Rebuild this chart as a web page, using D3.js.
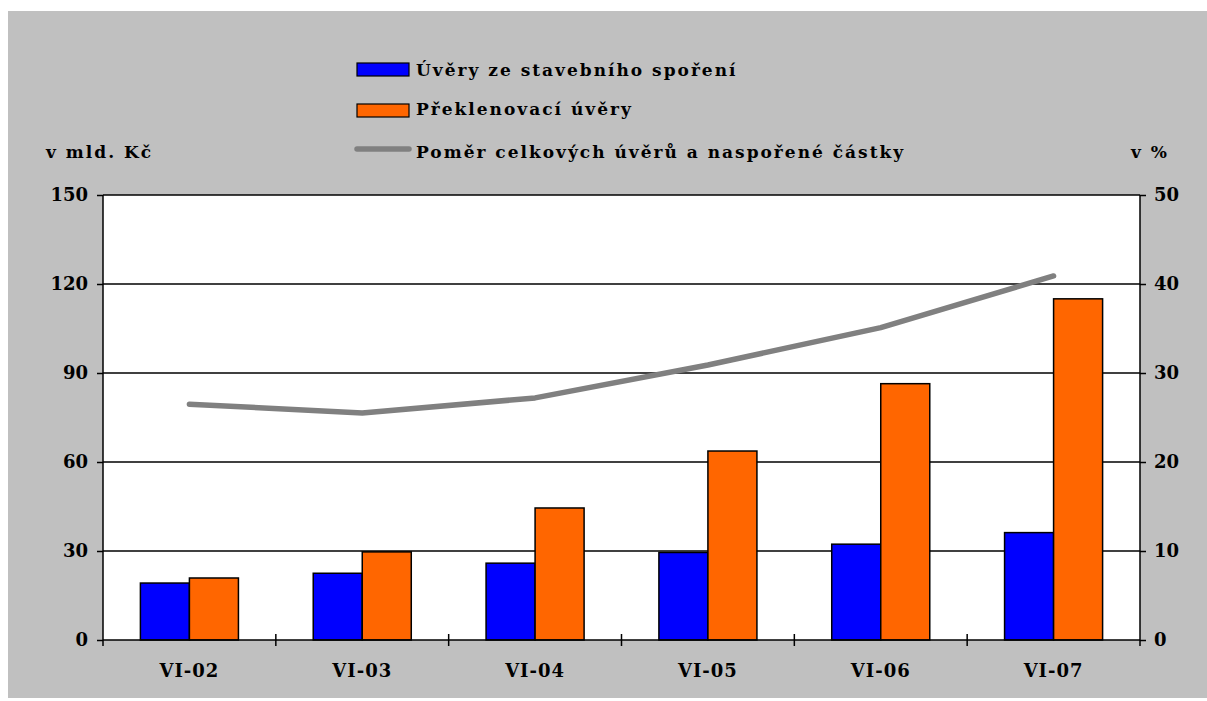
<!DOCTYPE html>
<html>
<head>
<meta charset="utf-8">
<script src="https://cdn.jsdelivr.net/npm/d3@7"></script>
<style>
  html, body { margin: 0; padding: 0; background: #ffffff; }
  svg { display: block; }
  text { font-family: "DejaVu Serif", serif; font-weight: bold; fill: #000; }
</style>
</head>
<body>
<svg id="chart" width="1207" height="701"></svg>
<script>
// Periods (June of each year)
const categories = ["VI-02", "VI-03", "VI-04", "VI-05", "VI-06", "VI-07"];
// Loans from building savings, bn CZK
const stavebniUvery = [19.2, 22.5, 25.9, 29.5, 32.3, 36.2];
// Bridging loans, bn CZK
const preklenovaciUvery = [20.9, 29.7, 44.5, 63.7, 86.4, 115.0];
// Ratio of total loans to saved amount, %
const pomerUveru = [26.5, 25.5, 27.2, 30.9, 35.1, 40.9];
// Axis ticks
const leftTicks = [0, 30, 60, 90, 120, 150];
const rightTicks = [0, 10, 20, 30, 40, 50];

const seriesNames = ["Úvěry ze stavebního spoření", "Překlenovací úvěry", "Poměr celkových úvěrů a naspořené částky"];
const colors = { blue: "#0000ff", orange: "#ff6600", line: "#808080", bg: "#c0c0c0" };

const svg = d3.select("#chart");
const plot = { left: 103, right: 1140, top: 195, bottom: 640 };

// background panel
svg.append("rect").attr("x", 8).attr("y", 11).attr("width", 1199).attr("height", 687).attr("fill", colors.bg);
svg.append("rect").attr("x", plot.left).attr("y", plot.top)
  .attr("width", plot.right - plot.left).attr("height", plot.bottom - plot.top).attr("fill", "#ffffff");

const x = d3.scaleBand().domain(categories).range([plot.left, plot.right]).padding(0);
const xi = d3.scaleBand().domain(["s", "p"]).range([0, x.bandwidth()]).paddingInner(0).paddingOuter(0.763);
const yL = d3.scaleLinear().domain([0, 150]).range([plot.bottom, plot.top]);
const yR = d3.scaleLinear().domain([0, 50]).range([plot.bottom, plot.top]);

// horizontal gridlines
svg.append("g").selectAll("line").data(leftTicks.slice(1)).join("line")
  .attr("x1", plot.left).attr("x2", plot.right)
  .attr("y1", d => yL(d)).attr("y2", d => yL(d))
  .attr("stroke", "#000").attr("stroke-width", 1.5);

// bars
const rows = categories.map((c, i) => ({ c, s: stavebniUvery[i], p: preklenovaciUvery[i] }));
const groups = svg.append("g").selectAll("g").data(rows).join("g")
  .attr("transform", d => `translate(${x(d.c)},0)`);
groups.append("rect")
  .attr("x", xi("s")).attr("width", xi.bandwidth())
  .attr("y", d => yL(d.s)).attr("height", d => yL(0) - yL(d.s))
  .attr("fill", colors.blue).attr("stroke", "#000").attr("stroke-width", 1.5);
groups.append("rect")
  .attr("x", xi("p")).attr("width", xi.bandwidth())
  .attr("y", d => yL(d.p)).attr("height", d => yL(0) - yL(d.p))
  .attr("fill", colors.orange).attr("stroke", "#000").attr("stroke-width", 1.5);

// ratio line on the right axis
const line = d3.line().x((d, i) => x(categories[i]) + x.bandwidth() / 2).y(d => yR(d));
svg.append("path").datum(pomerUveru).attr("d", line)
  .attr("fill", "none").attr("stroke", colors.line).attr("stroke-width", 5.5)
  .attr("stroke-linejoin", "round").attr("stroke-linecap", "round");

// axes
const fontSize = 18;
const leftAxis = svg.append("g").attr("transform", `translate(${plot.left},0)`)
  .call(d3.axisLeft(yL).tickValues(leftTicks).tickSize(6).tickPadding(9).tickSizeOuter(0));
const rightAxis = svg.append("g").attr("transform", `translate(${plot.right},0)`)
  .call(d3.axisRight(yR).tickValues(rightTicks).tickSize(6).tickPadding(8).tickSizeOuter(0));
[leftAxis, rightAxis].forEach(g => {
  g.select(".domain").attr("stroke", "#000").attr("stroke-width", 1.5).attr("d", `M0,${plot.top}V${plot.bottom + 6}`);
  g.selectAll(".tick line").attr("stroke", "#000").attr("stroke-width", 1.5);
  g.selectAll("text").attr("font-family", "DejaVu Serif").attr("font-weight", "bold").attr("font-size", fontSize);
});

// x axis: band-boundary ticks crossing the baseline, labels centred
const xAxis = svg.append("g").attr("transform", `translate(0,${plot.bottom})`)
  .call(d3.axisBottom(x).tickSize(0).tickPadding(37));
xAxis.select(".domain").attr("stroke", "#000").attr("stroke-width", 1.5).attr("d", `M${plot.left},0H${plot.right}`);
xAxis.selectAll("text").attr("font-family", "DejaVu Serif").attr("font-weight", "bold")
  .attr("font-size", fontSize).attr("letter-spacing", 1).attr("dy", 0);
svg.append("g").selectAll("line").data(categories.slice(1)).join("line")
  .attr("x1", d => x(d)).attr("x2", d => x(d))
  .attr("y1", plot.bottom - 6).attr("y2", plot.bottom + 6)
  .attr("stroke", "#000").attr("stroke-width", 1.5);

// axis unit labels
const headFont = 17, headSpacing = 2;
svg.append("text").attr("x", 46).attr("y", 158).attr("font-size", headFont)
  .attr("letter-spacing", headSpacing).text("v mld. Kč");
svg.append("text").attr("x", 1169).attr("y", 158).attr("font-size", headFont)
  .attr("letter-spacing", headSpacing).attr("text-anchor", "end").text("v %");

// legend
const legend = svg.append("g");
legend.append("rect").attr("x", 357).attr("y", 63).attr("width", 52).attr("height", 13)
  .attr("fill", colors.blue).attr("stroke", "#000").attr("stroke-width", 1.2);
legend.append("rect").attr("x", 357).attr("y", 104).attr("width", 52).attr("height", 13)
  .attr("fill", colors.orange).attr("stroke", "#000").attr("stroke-width", 1.2);
legend.append("line").attr("x1", 357).attr("x2", 409).attr("y1", 149).attr("y2", 149)
  .attr("stroke", colors.line).attr("stroke-width", 5.5).attr("stroke-linecap", "round");
legend.selectAll("text.lbl").data(seriesNames).join("text").attr("class", "lbl")
  .attr("x", 416).attr("y", (d, i) => [76, 115, 158][i])
  .attr("font-size", headFont).attr("letter-spacing", headSpacing).text(d => d);
</script>
</body>
</html>
